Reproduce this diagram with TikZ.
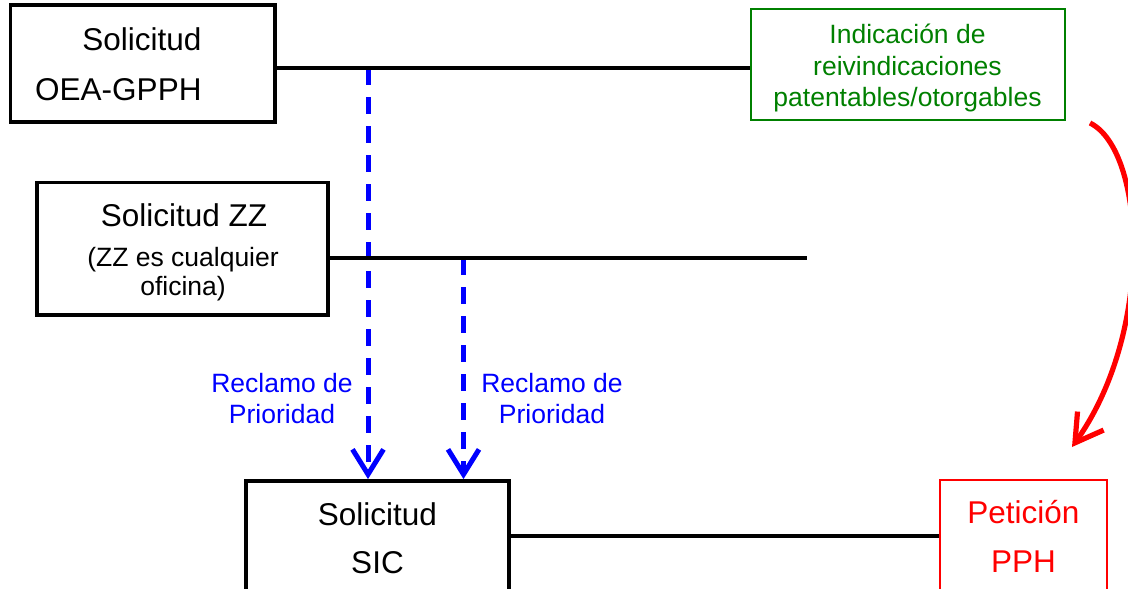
\documentclass[tikz,border=0pt]{standalone}
\usepackage{fontspec}
\setmainfont{Liberation Sans}
\usetikzlibrary{arrows.meta}
\definecolor{pgreen}{RGB}{0,128,0}
\definecolor{pblue}{RGB}{0,0,255}
\definecolor{pred}{RGB}{255,0,0}
\begin{document}
\begin{tikzpicture}[x=1pt,y=-1pt,
  blackbox/.style={draw=black, line width=3.8pt, inner sep=0pt},
  thinbox/.style={draw, line width=2pt, inner sep=0pt},
  big/.style={font=\fontsize{31.5}{38}\selectfont, inner sep=0pt},
  small/.style={font=\fontsize{26.5}{32}\selectfont, inner sep=0pt},
  link/.style={line width=3.8pt, black},
  prio/.style={pblue, line width=5pt, dash pattern=on 17pt off 12pt, -{Straight Barb[length=25pt,width=31pt]}},
  petarrow/.style={pred, line width=5.2pt, -{Straight Barb[length=27pt,width=32pt]}},
]
\useasboundingbox (0,0) rectangle (1128,589);
\clip (0,0) rectangle (1128,589);

% boxes
\node[blackbox, minimum width=264.5pt, minimum height=116.4pt] (b1) at (142.75,63.5) {};
\node[blackbox, minimum width=291.3pt, minimum height=132.5pt] (b2) at (182.7,248.7) {};
\node[blackbox, minimum width=263pt, minimum height=169pt] (b3) at (377.5,565.5) {};
\node[thinbox, draw=pgreen, minimum width=314pt, minimum height=110.8pt] (g) at (907.5,64.1) {};
\node[thinbox, draw=pred, minimum width=167.7pt, minimum height=170.5pt] (r) at (1023.35,564.75) {};

% texts
\node[big, anchor=base east] (t1a) at (201.7,50.5) {Solicitud};
\node[big, anchor=base east] (t1b) at (201.7,100.5) {OEA-GPPH};
\node[big, anchor=base] (t2a) at (184,226) {Solicitud ZZ};
\node[small, anchor=base] (t2b) at (183,266.5) {(ZZ es cualquier};
\node[small, anchor=base] (t2c) at (183,295) {oficina)};
\node[small, text=pgreen, anchor=base] (g1) at (907.5,43.3) {Indicación de};
\node[small, text=pgreen, anchor=base] (g2) at (907.5,75) {reivindicaciones};
\node[small, text=pgreen, anchor=base] (g3) at (907.5,106.7) {patentables/otorgables};
\node[small, text=pblue, anchor=base] (l1a) at (282,392) {Reclamo de};
\node[small, text=pblue, anchor=base] (l1b) at (282,423) {Prioridad};
\node[small, text=pblue, anchor=base] (l2a) at (552,392) {Reclamo de};
\node[small, text=pblue, anchor=base] (l2b) at (552,423) {Prioridad};
\node[big, anchor=base] (t3a) at (377.5,525.5) {Solicitud};
\node[big, anchor=base] (t3b) at (377.5,573.5) {SIC};
\node[big, text=pred, anchor=base] (r1) at (1023.4,523.5) {Petición};
\node[big, text=pred, anchor=base] (r2) at (1023.4,572) {PPH};

% connectors
\coordinate (j1) at (368,68);
\coordinate (j2) at (463.5,258);
\coordinate (e2) at (807,258);
\coordinate (j3) at (0,535.7);
\coordinate (rs) at (1090,123);
\coordinate (re) at (1072,447);

\draw[prio] (j1) -- (j1 |- b3.north);
\draw[prio] (j2) -- (j2 |- b3.north);
\draw[link] (b1.east |- j1) -- (g.west |- j1);
\draw[link] (b2.east |- j2) -- (e2);
\draw[link] (b3.east |- j3) -- (r.west |- j3);
\draw[petarrow] (rs) .. controls (1145,150) and (1155,330) .. (re);
\end{tikzpicture}
\end{document}
